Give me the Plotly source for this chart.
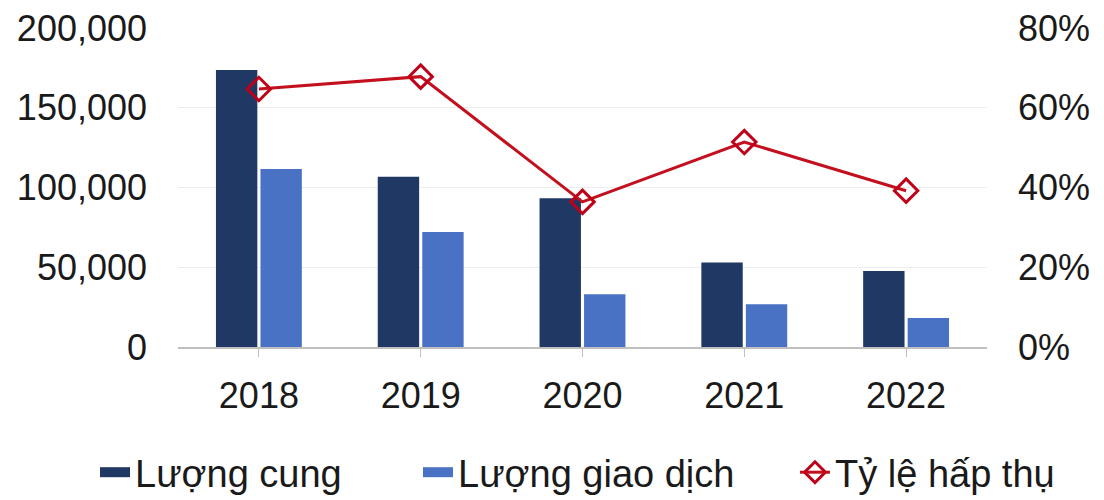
import plotly.graph_objects as go

years = ["2018", "2019", "2020", "2021", "2022"]
supply = [173700, 106800, 93200, 52900, 47600]
transactions = [111600, 72100, 33000, 26800, 18200]
absorption = [0.647, 0.678, 0.364, 0.514, 0.392]

left_ticks = [0, 50000, 100000, 150000, 200000]
left_labels = ["0", "50,000", "100,000", "150,000", "200,000"]
right_ticks = [0, 0.2, 0.4, 0.6, 0.8]
right_labels = ["0%", "20%", "40%", "60%", "80%"]

FONT = "Liberation Sans, Arial, sans-serif"
TXT = "#1a1a1a"
NAVY = "#203864"
BLUE = "#4A72C4"
RED = "#C4101E"

fig = go.Figure()
fig.add_trace(go.Bar(x=years, y=supply, name="Lượng cung", marker_color=NAVY,
                     marker_line_width=0, showlegend=False))
fig.add_trace(go.Bar(x=years, y=transactions, name="Lượng giao dịch", marker_color=BLUE,
                     marker_line_width=0, showlegend=False))
fig.add_trace(go.Scatter(x=years, y=absorption, name="Tỷ lệ hấp thụ", yaxis="y2",
                         mode="lines+markers", legend="legend3",
                         line=dict(color=RED, width=3),
                         marker=dict(symbol="diamond-open", size=18, color="#C00018",
                                     line=dict(width=3, color="#C00018"))))
# legend swatches for the bar series (no data drawn)
fig.add_trace(go.Scatter(x=[None], y=[None], mode="lines", name="Lượng cung",
                         line=dict(color=NAVY, width=15), legend="legend"))
fig.add_trace(go.Scatter(x=[None], y=[None], mode="lines", name="Lượng giao dịch",
                         line=dict(color=BLUE, width=15), legend="legend2"))

leg_common = dict(orientation="h", xref="container", yref="container",
                  y=0.055, xanchor="left", yanchor="middle",
                  font=dict(size=38, color=TXT, family=FONT), bgcolor="rgba(0,0,0,0)")

fig.update_layout(
    width=1104, height=500,
    margin=dict(l=178, r=117, t=28, b=153, autoexpand=False),
    paper_bgcolor="white", plot_bgcolor="white",
    barmode="group", bargap=0.45, bargroupgap=0.07,
    font=dict(family=FONT, size=36, color=TXT),
    showlegend=True,
    legend=dict(x=95 / 1104, **leg_common),
    legend2=dict(x=418 / 1104, **leg_common),
    legend3=dict(x=795 / 1104, **leg_common),
    xaxis=dict(showgrid=False, showline=True, linecolor="#BFBFBF", linewidth=2,
               ticks="outside", ticklen=8, tickcolor="#BFBFBF", tickwidth=1,
               ticklabelstandoff=8, tickfont=dict(size=36, color=TXT), automargin=False),
    yaxis=dict(range=[0, 200000], tickvals=left_ticks, ticktext=left_labels,
               showgrid=True, gridcolor="#EDEDED", gridwidth=1, zeroline=False,
               showline=False, ticklabelstandoff=30, tickfont=dict(size=36, color=TXT),
               automargin=False),
    yaxis2=dict(range=[0, 0.8], tickvals=right_ticks, ticktext=right_labels,
                overlaying="y", side="right", showgrid=False, zeroline=False,
                showline=False, ticklabelstandoff=30, tickfont=dict(size=36, color=TXT),
                automargin=False),
)

fig.write_html("out.html")
